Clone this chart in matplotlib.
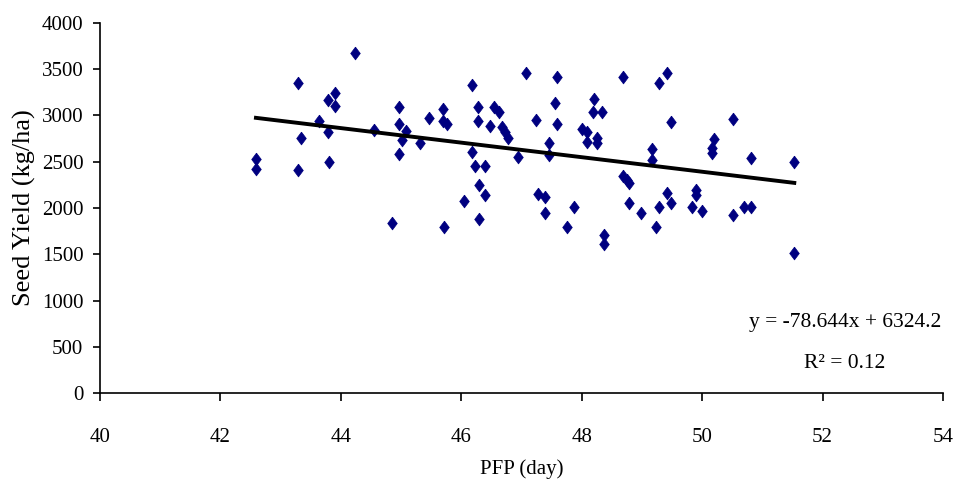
import numpy as np
import matplotlib
matplotlib.use("Agg")
import matplotlib.pyplot as plt

# PFP (day) vs seed yield (kg/ha)
pfp = [42.59, 42.59, 43.29, 43.29, 43.34, 43.64, 43.79, 43.91, 43.91, 43.79,
       43.81, 44.23, 44.55, 44.85, 44.97, 44.97, 45.09, 45.02, 44.97, 45.32,
       45.47, 45.69, 45.69, 45.76, 45.71, 46.05, 46.18, 46.18, 46.23, 46.27,
       46.27, 46.30, 46.30, 46.40, 46.40, 46.47, 46.55, 46.63, 46.67, 46.72,
       46.77, 47.07, 47.24, 46.94, 47.46, 47.46, 47.59, 47.56, 47.59, 47.28,
       47.39, 47.39, 47.88, 47.75, 48.00, 48.08, 48.08, 48.20, 48.19, 48.33,
       48.25, 48.25, 48.37, 48.37, 48.69, 48.69, 48.75, 48.79, 48.79, 48.99,
       49.24, 49.28, 49.41, 49.28, 49.48, 49.16, 49.16, 49.41, 49.48, 49.90,
       49.90, 49.83, 50.00, 50.51, 50.19, 50.17, 50.17, 50.81, 50.51, 50.69,
       50.81, 51.53, 51.53]
seed_yield = [2526, 2425, 3354, 2407, 2760, 2940, 3171, 3246, 3102, 2821,
              2497, 3679, 2846, 1841, 3088, 2911, 2832, 2735, 2580, 2706,
              2976, 3073, 2944, 2905, 1798, 2079, 3329, 2605, 2454, 3088,
              2938, 2254, 1886, 2451, 2144, 2886, 3088, 3038, 2872, 2825,
              2753, 3459, 2954, 2554, 2699, 2576, 3413, 3132, 2908, 2148,
              2122, 1949, 2014, 1794, 2851, 2827, 2710, 3178, 3038, 3038,
              2757, 2705, 1713, 1613, 3414, 2346, 2307, 2268, 2056, 1949,
              1797, 2014, 3457, 3346, 2935, 2634, 2519, 2165, 2057, 2194,
              2140, 2014, 1971, 2959, 2744, 2651, 2598, 2538, 1924, 2014,
              2014, 2494, 1513]

# trendline as printed on the chart
slope = -78.644
intercept = 6324.2
r2 = 0.12

plt.rcParams["font.family"] = ["Liberation Serif", "DejaVu Serif"]

fig = plt.figure(figsize=(9.54, 4.82), dpi=100)
ax = fig.add_axes([0.1048, 0.1846, 0.8837, 0.7677])

diamond = [(0, 1), (0.75, 0), (0, -1), (-0.75, 0), (0, 1)]
ax.scatter(pfp, seed_yield, marker=diamond, s=85, color="#000080",
           edgecolors="#000080", linewidths=0.5, zorder=2)

xs = np.array([min(pfp), max(pfp)])
ax.plot(xs, slope * xs + intercept, color="black", lw=2.8, zorder=3)

ax.text(52.37, 757, f"y = {slope}x + {intercept}", fontsize=15.5,
        ha="center", va="center")
ax.text(52.37, 318, f"R\u00b2 = {r2}", fontsize=15.5, ha="center", va="center")

ax.set_xlim(40, 54)
ax.set_ylim(0, 4000)
ax.set_xticks(np.arange(40, 55, 2))
ax.set_yticks(np.arange(0, 4001, 500))

for side in ["top", "right"]:
    ax.spines[side].set_visible(False)
for side in ["left", "bottom"]:
    ax.spines[side].set_linewidth(1.2)

ax.tick_params(axis="y", direction="out", length=5, width=1.2, pad=7,
               labelsize=15)
ax.tick_params(axis="x", direction="out", length=6, width=1.2, pad=19,
               labelsize=15)

ax.set_xlabel("PFP (day)", fontsize=15, labelpad=9)
ax.set_ylabel("Seed Yield (kg/ha)", fontsize=19, labelpad=4)

fig.savefig("out.png", dpi=100)
